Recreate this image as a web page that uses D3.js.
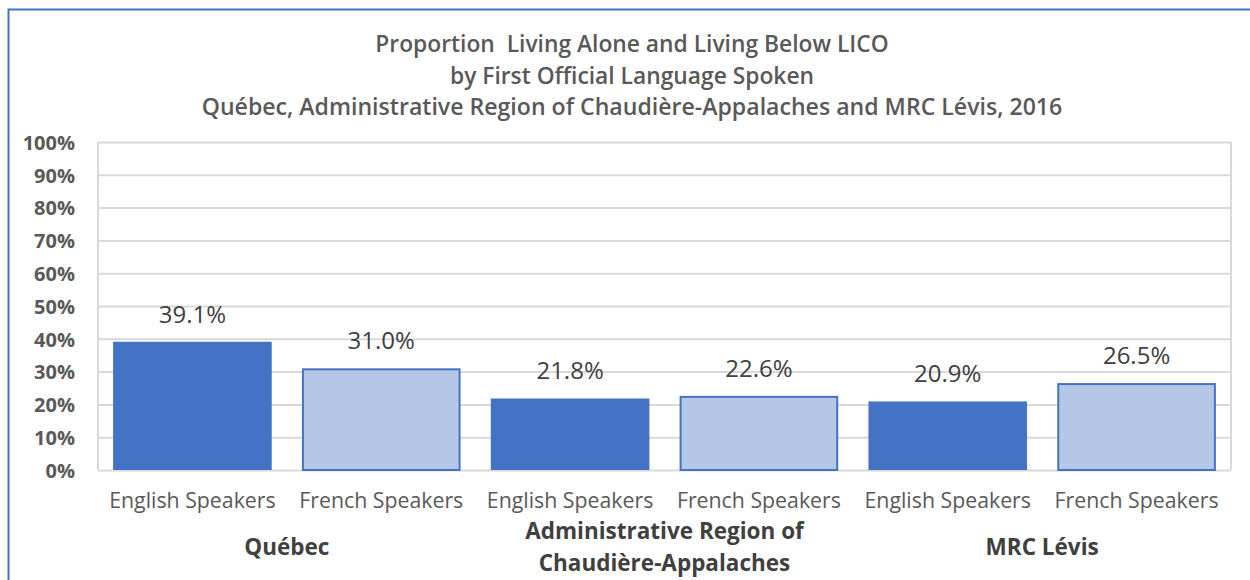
<!DOCTYPE html>
<html>
<head>
<meta charset="utf-8">
<script src="https://cdn.jsdelivr.net/npm/d3@7"></script>
<style>
  body { margin: 0; background: #fff; overflow: hidden; }
  text { font-family: "Open Sans", "Noto Sans", sans-serif; }
</style>
</head>
<body>
<svg id="chart" width="1250" height="580"></svg>
<script>
var titleLines = [
    'Proportion  Living Alone and Living Below LICO',
    'by First Official Language Spoken',
    'Québec, Administrative Region of Chaudière-Appalaches and MRC Lévis, 2016'
];
var groups = [ [ 'Québec' ], [ 'Administrative Region of', 'Chaudière-Appalaches' ], [ 'MRC Lévis' ] ];
var speakers = [ 'English Speakers', 'French Speakers' ];
var values = [ 39.1, 31.0, 21.8, 22.6, 20.9, 26.5 ];
var yTicks = [ 0, 10, 20, 30, 40, 50, 60, 70, 80, 90, 100 ];

var svg = d3.select( '#chart' ),
    margin = { top: 142, right: 19, bottom: 110, left: 98 },
    width = 1250 - margin.left - margin.right,
    height = 580 - margin.top - margin.bottom,
    textGrey = '#595959',
    dark = '#4472C4',
    light = '#B4C7E7';

// outer frame (only top and left edges are in view)
svg.append( 'path' )
    .attr( 'd', 'M8.5,600 V9.5 H1260' )
    .attr( 'fill', 'none' )
    .attr( 'stroke', dark )
    .attr( 'stroke-width', 2 );

// title
titleLines.forEach( function( t, i ) {
    svg.append( 'text' )
        .attr( 'x', 632 ).attr( 'y', 52 + i * 31.5 )
        .attr( 'text-anchor', 'middle' )
        .attr( 'font-size', i < 2 ? 22.8 : 23.1 )
        .attr( 'font-weight', 600 )
        .attr( 'fill', textGrey )
        .style( 'white-space', 'pre' )
        .text( t );
} );

var bars = [];
groups.forEach( function( g, gi ) {
    speakers.forEach( function( s, si ) {
        bars.push( { key: gi + '-' + si, group: gi, speaker: s, idx: si, value: values[ gi * 2 + si ] } );
    } );
} );

var x = d3.scaleBand()
    .domain( bars.map( function( d ) { return d.key; } ) )
    .range( [ 0, width ] )
    .paddingInner( 0.16 )
    .paddingOuter( 0.08 );

var y = d3.scaleLinear().domain( [ 0, 100 ] ).range( [ height, 0 ] );

var g = svg.append( 'g' ).attr( 'transform', 'translate(' + margin.left + ',' + margin.top + ')' );

// gridlines + y labels
var yAxis = g.append( 'g' )
    .call( d3.axisLeft( y ).tickValues( yTicks ).tickSize( -width ).tickFormat( function( d ) { return d + '%'; } ) );
yAxis.select( '.domain' ).remove();
yAxis.selectAll( '.tick line' ).attr( 'stroke', '#d9d9d9' ).attr( 'stroke-width', 2 );
yAxis.selectAll( '.tick text' )
    .attr( 'x', -23 )
    .attr( 'dy', '0.36em' )
    .attr( 'font-size', 20 )
    .attr( 'font-weight', 700 )
    .attr( 'fill', textGrey )
    .style( 'font-family', '"Open Sans", sans-serif' );

// plot box sides
g.append( 'line' ).attr( 'x1', 0 ).attr( 'x2', 0 ).attr( 'y1', 0 ).attr( 'y2', height )
    .attr( 'stroke', '#d9d9d9' ).attr( 'stroke-width', 2 );
g.append( 'line' ).attr( 'x1', width ).attr( 'x2', width ).attr( 'y1', 0 ).attr( 'y2', height )
    .attr( 'stroke', '#d9d9d9' ).attr( 'stroke-width', 2 );

// bars
g.selectAll( 'rect.bar' )
    .data( bars )
    .enter().append( 'rect' )
    .attr( 'class', 'bar' )
    .attr( 'x', function( d ) { return x( d.key ) + ( d.idx ? 1 : 0 ); } )
    .attr( 'y', function( d ) { return y( d.value ) + ( d.idx ? 1 : 0 ); } )
    .attr( 'width', function( d ) { return x.bandwidth() - ( d.idx ? 2 : 0 ); } )
    .attr( 'height', function( d ) { return height - y( d.value ) - ( d.idx ? 1 : 0 ); } )
    .attr( 'fill', function( d ) { return d.idx ? light : dark; } )
    .attr( 'stroke', function( d ) { return d.idx ? dark : 'none'; } )
    .attr( 'stroke-width', 2 );

// value labels
g.selectAll( 'text.val' )
    .data( bars )
    .enter().append( 'text' )
    .attr( 'class', 'val' )
    .attr( 'x', function( d ) { return x( d.key ) + x.bandwidth() / 2; } )
    .attr( 'y', function( d ) { return y( d.value ) - 19; } )
    .attr( 'text-anchor', 'middle' )
    .attr( 'font-size', 24 )
    .attr( 'fill', '#404040' )
    .text( function( d ) { return d.value.toFixed( 1 ) + '%'; } );

// category labels
g.selectAll( 'text.cat' )
    .data( bars )
    .enter().append( 'text' )
    .attr( 'class', 'cat' )
    .attr( 'x', function( d ) { return x( d.key ) + x.bandwidth() / 2; } )
    .attr( 'y', height + 38 )
    .attr( 'text-anchor', 'middle' )
    .attr( 'font-size', 21.3 )
    .attr( 'fill', textGrey )
    .text( function( d ) { return d.speaker; } );

// group labels
groups.forEach( function( lines, gi ) {
    var cx = ( x( gi + '-0' ) + x( gi + '-1' ) + x.bandwidth() ) / 2,
        y0 = lines.length > 1 ? height + 69 : height + 85;
    lines.forEach( function( t, li ) {
        g.append( 'text' )
            .attr( 'x', cx )
            .attr( 'y', y0 + li * 32 )
            .attr( 'text-anchor', 'middle' )
            .attr( 'font-size', 22.5 )
            .attr( 'font-weight', 700 )
            .attr( 'fill', '#404040' )
            .text( t );
    } );
} );
</script>
</body>
</html>
